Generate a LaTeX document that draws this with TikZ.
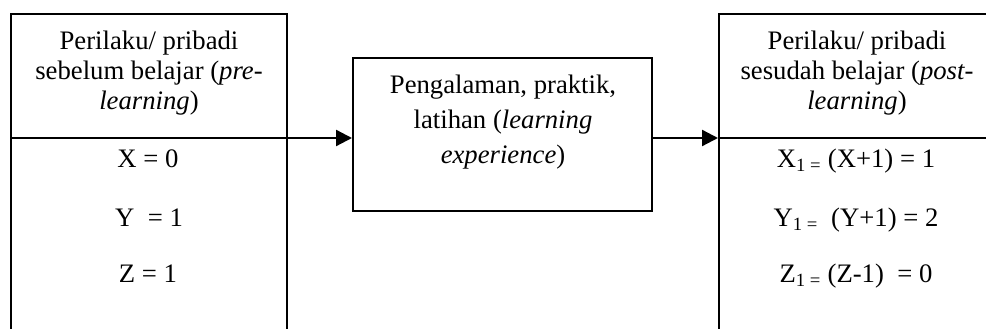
\documentclass[tikz,border=0pt]{standalone}
\usepackage{fontspec}
\setmainfont{Liberation Serif}
\usetikzlibrary{arrows.meta}
\begin{document}
\begin{tikzpicture}[x=1pt,y=1pt,
  box/.style={draw, line width=2pt, inner sep=0pt},
  head/.style={align=center, inner sep=0pt, font=\fontsize{26.7pt}{30pt}\selectfont},
  midtext/.style={align=center, inner sep=0pt, font=\fontsize{26.7pt}{35pt}\selectfont},
  eq/.style={anchor=base, inner sep=0pt, font=\fontsize{26.7pt}{30pt}\selectfont},
  flow/.style={line width=2.3pt, -{Triangle[length=16pt,width=16pt]}},
  split/.style={line width=2pt}]
\useasboundingbox (0,0) rectangle (986,329);
\clip (0,0) rectangle (986,329);

% open-bottomed state boxes and the process box
\node[box, minimum width=276pt, minimum height=325pt] (lb) at (149,152.5) {};
\node[box, minimum width=299pt, minimum height=153pt] (mid) at (502.5,194.5) {};
\node[box, minimum width=276pt, minimum height=325pt] (rb) at (857,152.5) {};

% level of the header divider and the flow arrows
\coordinate (lvl) at (lb.west |- 0,191);

\draw[flow] (lvl) -- (lvl -| mid.west);
\draw[flow] (lvl -| mid.east) -- (lvl -| rb.west);
\draw[split] (lvl -| rb.west) -- (lvl -| rb.east);

% headers
\node[head] (lh) at (149,255) {\strut Perilaku/ pribadi\\\strut sebelum belajar (\textit{pre-}\\\strut\textit{learning})};
\node[head] (rh) at (857,255) {\strut Perilaku/ pribadi\\\strut sesudah belajar (\textit{post-}\\\strut\textit{learning})};
\node[midtext] (mt) at (503,207) {\strut Pengalaman, praktik,\\\strut latihan (\textit{learning}\\\strut\textit{experience})};

% values before learning
\node[eq] (x0) at (148,161) {X = 0};
\node[eq] (y0) at (149,102) {Y~ = 1};
\node[eq] (z0) at (148,46) {Z = 1};

% values after learning
\node[eq] (x1) at (856,161) {X\textsubscript{1 =} (X+1) = 1};
\node[eq] (y1) at (856,102) {Y\textsubscript{1 =}~ (Y+1) = 2};
\node[eq] (z1) at (856,46) {Z\textsubscript{1 =} (Z-1)~ = 0};
\end{tikzpicture}
\end{document}
